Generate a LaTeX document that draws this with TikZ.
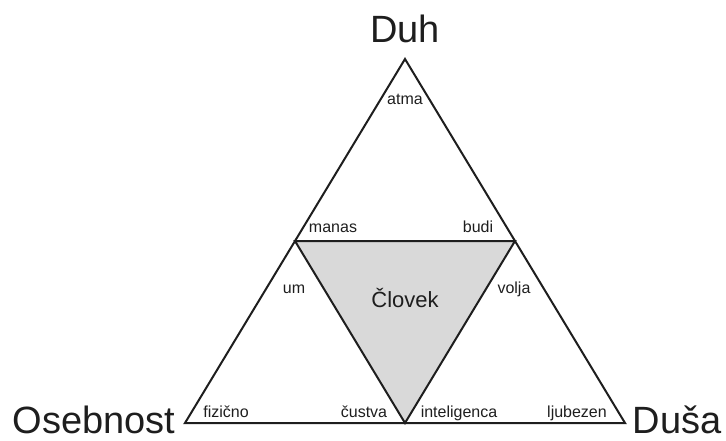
\documentclass[tikz,border=0pt]{standalone}
\usepackage{fontspec}
\setmainfont{Liberation Sans}
\definecolor{ink}{RGB}{30,30,30}
\definecolor{fillgray}{RGB}{217,217,217}
\tikzset{
  big/.style={font=\fontsize{38}{40}\selectfont, text=ink, anchor=base, inner sep=0pt},
  small/.style={font=\fontsize{16}{18}\selectfont, text=ink, anchor=base, inner sep=0pt},
  mid/.style={font=\fontsize{22}{24}\selectfont, text=ink, anchor=base, inner sep=0pt},
  edge/.style={draw=ink, line width=2pt, line join=miter}
}
\begin{document}
\begin{tikzpicture}[x=1pt,y=-1pt]
\useasboundingbox (0,0) rectangle (726,441);
\coordinate (A) at (405,59);
\coordinate (L) at (185,423);
\coordinate (R) at (625,423);
\coordinate (ML) at (295,241);
\coordinate (MR) at (515,241);
\coordinate (MB) at (405,423);
\fill[fillgray] (ML) -- (MR) -- (MB) -- cycle;
\draw[edge] (A) -- (L) -- (R) -- cycle;
\draw[edge] (ML) -- (MR) -- (MB) -- cycle;
\node[big] (duh) at (405,43) {Duh};
\node[big] (oseb) at (94,433) {Osebnost};
\node[big] (dusa) at (677,433) {Duša};
\node[mid] (clovek) at (405,307) {Človek};
\node[small] (atma) at (405,105) {atma};
\node[small] (manas) at (333,233) {manas};
\node[small] (budi) at (478,233) {budi};
\node[small] (um) at (294,293) {um};
\node[small] (volja) at (514,293) {volja};
\node[small] (fizicno) at (226,417) {fizično};
\node[small] (custva) at (364,417) {čustva};
\node[small] (intel) at (459,417) {inteligenca};
\node[small] (ljub) at (577,417) {ljubezen};
\end{tikzpicture}
\end{document}
